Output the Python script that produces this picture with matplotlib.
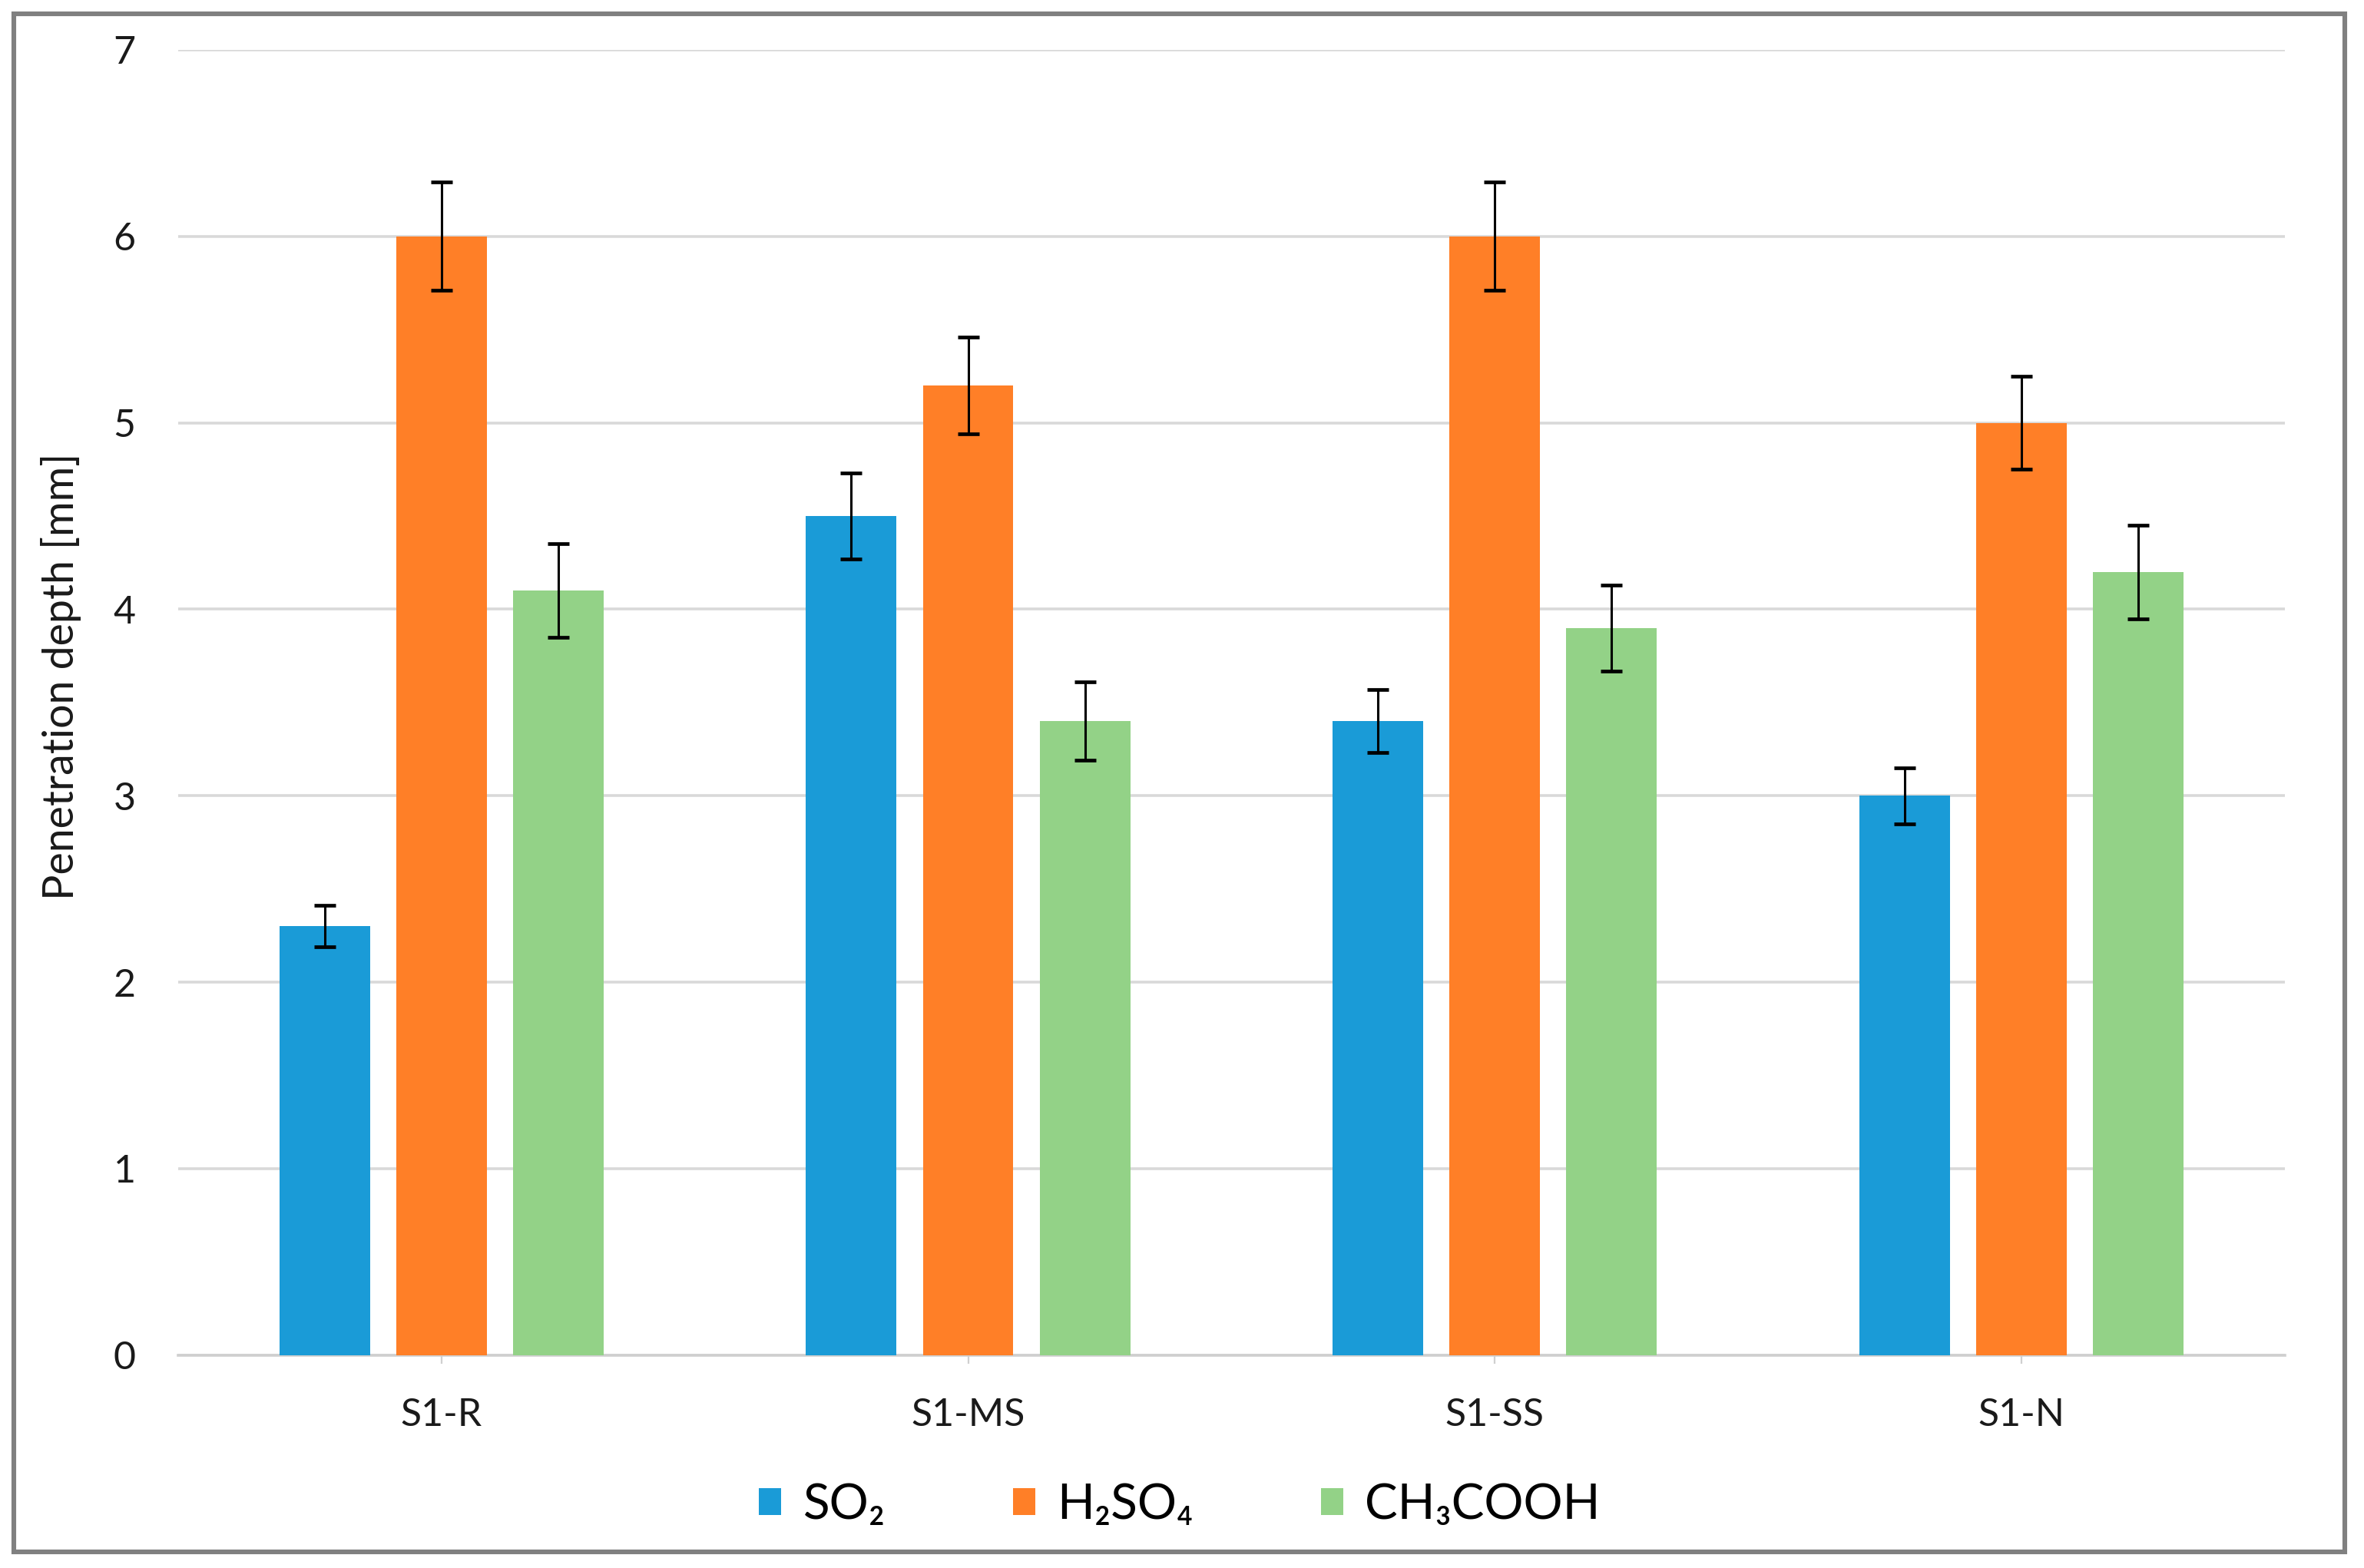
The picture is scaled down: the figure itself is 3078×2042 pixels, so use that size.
import numpy as np
import matplotlib.pyplot as plt
from matplotlib.patches import Rectangle

# data
samples = ["S1-R", "S1-MS", "S1-SS", "S1-N"]
series = ["SO\u2082", "H\u2082SO\u2084", "CH\u2083COOH"]
so2 = [2.3, 4.5, 3.4, 3.0]
h2so4 = [6.0, 5.2, 6.0, 5.0]
ch3cooh = [4.1, 3.4, 3.9, 4.2]
so2_err = [0.11, 0.23, 0.17, 0.15]
h2so4_err = [0.29, 0.26, 0.29, 0.25]
ch3cooh_err = [0.25, 0.21, 0.23, 0.25]
colors = ["#1A9BD7", "#FF7F27", "#93D287"]

plt.rcParams['font.family'] = ['Lato', 'DejaVu Sans']

fig = plt.figure(figsize=(15.39, 10.21), dpi=200)
ax = fig.add_axes([0.0754, 0.1358, 0.8910, 0.8324])

x = np.arange(len(samples))
offset = 0.222
width = 0.172
values = [so2, h2so4, ch3cooh]
errors = [so2_err, h2so4_err, ch3cooh_err]
for i, (vals, errs) in enumerate(zip(values, errors)):
    ax.bar(x + (i - 1) * offset, vals, width, color=colors[i], label=series[i],
           zorder=3, yerr=errs, capsize=5,
           error_kw=dict(ecolor='black', elinewidth=1.1, capthick=1.7, zorder=4))

ax.set_xlim(-0.5, len(samples) - 0.5)
ax.set_ylim(0, 7)
ax.set_yticks(range(0, 8))
ax.set_xticks(x)
ax.set_xticklabels(samples)
ax.grid(axis='y', color='#D9D9D9', linewidth=1.3, zorder=0)
for s in ['top', 'right', 'left']:
    ax.spines[s].set_visible(False)
ax.spines['bottom'].set_color('#CFCFCF')
ax.spines['bottom'].set_linewidth(1.3)
ax.tick_params(axis='y', length=0, pad=20, labelsize=18, labelcolor='#1a1a1a')
ax.tick_params(axis='x', length=4, width=0.8, color='#D0D0D0', pad=16,
               labelsize=18, labelcolor='#1a1a1a')
ax.set_ylabel("Penetration depth [mm]", fontsize=20, color='#1a1a1a')
ax.yaxis.set_label_coords(-0.046, 0.52)

fig.legend(loc='center', bbox_to_anchor=(0.499, 0.04), ncol=3, frameon=False,
           fontsize=23, handlelength=0.45, handleheight=0.45,
           handletextpad=0.45, columnspacing=2.6)

# outer grey frame
fig.patches.append(Rectangle((0.006, 0.0103), 0.986, 0.981, transform=fig.transFigure,
                             fill=False, edgecolor='#808080', linewidth=2.2))

fig.savefig("out.png", dpi=200, facecolor='white')
